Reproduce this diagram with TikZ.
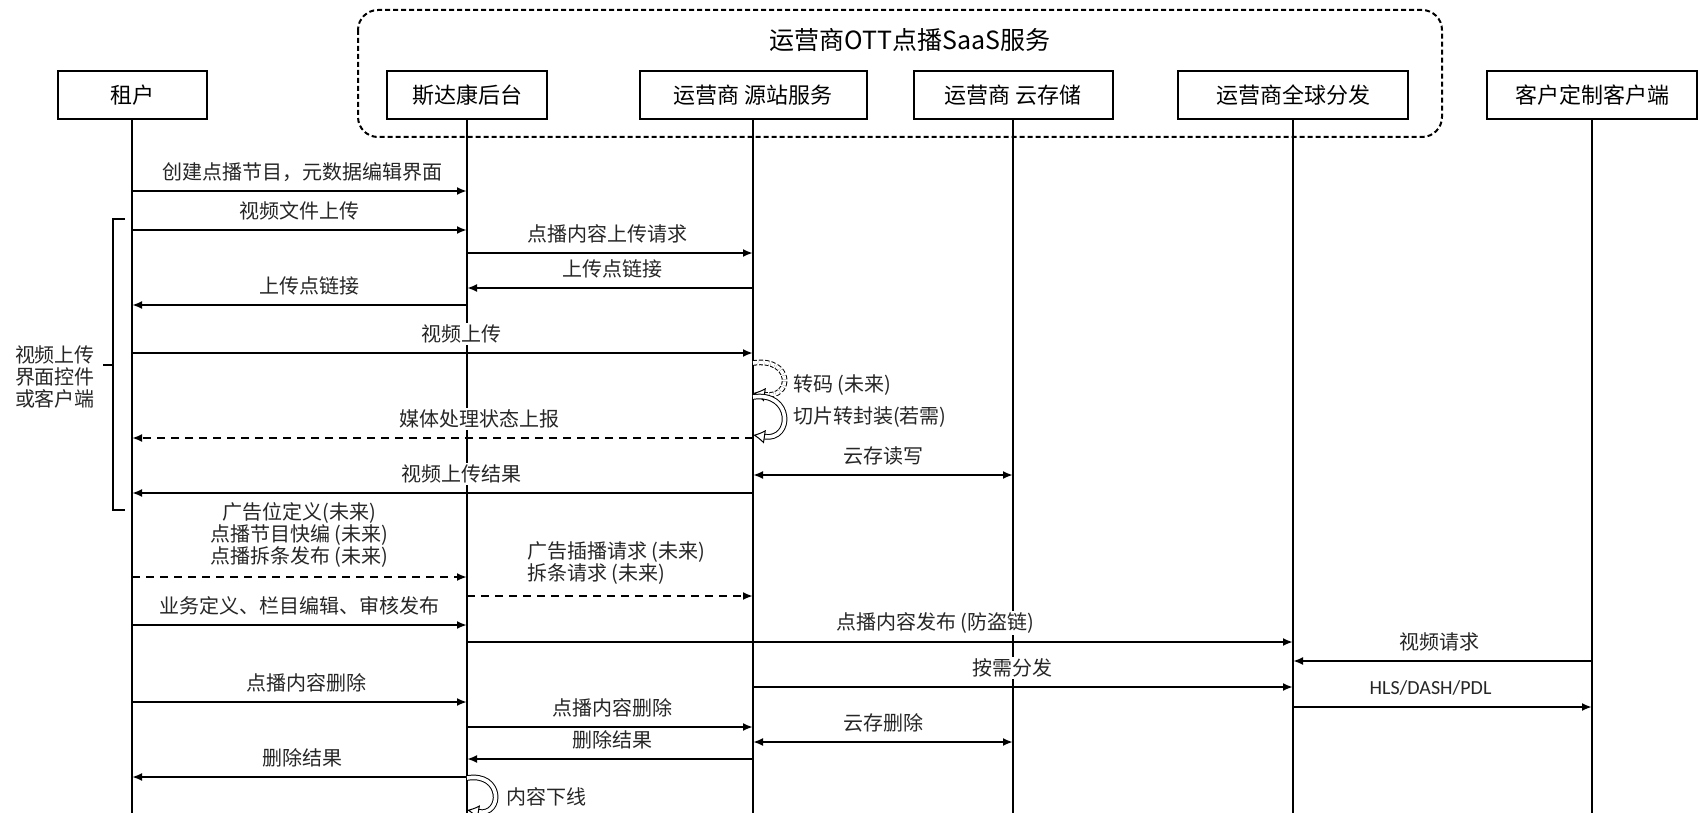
\documentclass[tikz,border=0pt]{standalone}
\usepackage{fontspec}
\setmainfont{Noto Sans CJK SC}
\newfontfamily\calibri{Carlito}
\usetikzlibrary{arrows.meta}
\newcommand\msgfont{\fontsize{10pt}{11pt}\selectfont}

\begin{document}
\begin{tikzpicture} [
                x=0.5pt, y=-0.5pt,
                actor/.style = {draw, line width=1pt, minimum height=24pt, inner sep=0pt, font=\fontsize{11pt}{13pt}\selectfont},
                lifeline/.style = {draw, line width=1pt},
                msg/.style = {draw, line width=1pt, -{Latex[length=5pt,width=4pt]}},
                future msg/.style = {msg, dash pattern=on 4pt off 3pt},
                both msg/.style = {draw, line width=1pt, {Latex[length=5pt,width=4pt]}-{Latex[length=5pt,width=4pt]}},
                msg text/.style = {font=\msgfont, text=black!85, fill=white, inner sep=1pt, yshift=9.5pt},
                self call/.style = {draw, line width=0.5pt, double, double distance=1.8pt, -{Latex[open,length=6pt,width=7pt]}},
                group/.style = {draw, line width=1pt, dash pattern=on 2.5pt off 1.5pt, rounded corners=10pt}
            ]
        \useasboundingbox (0,0) rectangle (1698,813);
        % the SaaS group round the operator services
            \draw[group] (358,10) rectangle (1442,137);
            \node[font=\fontsize{12.5pt}{14pt}\selectfont] (saas) at (910,40) {运营商OTT点播SaaS服务};
        % First we draw the participants
            \foreach \pos/\name/\boxw/\txt in {
                {(132,95)/ten/74.5pt/租户},
                {(467,95)/bak/80pt/斯达康后台},
                {(753,95)/org/113.5pt/运营商 源站服务},
                {(1013,95)/sto/99.5pt/运营商 云存储},
                {(1293,95)/cdn/115pt/运营商全球分发},
            {(1592,95)/cli/105pt/客户定制客户端}}
            \node[actor, minimum width=\boxw] (\name) at \pos {\txt};
            \coordinate (bottom) at (0,813);
        % lifelines
            \foreach \name in {ten, bak, org, sto, cdn, cli}
            \path[lifeline] (\name.south) -- (\name |- bottom);
        % Connect lifelines with messages and draw texts
            \foreach \src/\dst/\y/\p/\txt in {
                ten/bak/191/0.51/{创建点播节目，元数据编辑界面},
                ten/bak/230/0.5/视频文件上传,
                bak/org/253/0.49/点播内容上传请求,
                org/bak/288/0.49/上传点链接,
                bak/ten/305/0.47/上传点链接,
                ten/org/353/0.53/视频上传,
                org/ten/493/0.47/视频上传结果,
                ten/bak/625/0.5/{业务定义、栏目编辑、审核发布},
                bak/cdn/642/0.567/{点播内容发布 (防盗链)},
                cli/cdn/661/0.51/视频请求,
                org/cdn/687/0.48/按需分发,
                ten/bak/702/0.52/点播内容删除,
                bak/org/727/0.51/点播内容删除,
                org/bak/759/0.49/删除结果,
            bak/ten/777/0.49/删除结果}
            \path[msg] (\src |- 0,\y) -- node[msg text, pos=\p] {\txt} (\dst |- 0,\y);
            \path[msg] (cdn |- 0,707) -- node[msg text, pos=0.46, font=\calibri\fontsize{10pt}{11pt}\selectfont] {HLS/DASH/PDL} (cli |- 0,707);
        % storage read and write
            \foreach \y/\txt in {475/云存读写, 742/云存删除}
            \path[both msg] (org |- 0,\y) -- node[msg text] {\txt} (sto |- 0,\y);
        % dashed ones are for the future
            \path[future msg] (org |- 0,438) -- node[msg text, pos=0.44] {媒体处理状态上报} (ten |- 0,438);
            \path[future msg] (ten |- 0,577) -- node[msg text, pos=0.5, yshift=11.5pt, align=center] {广告位定义(未来)\\点播节目快编 (未来)\\点播拆条发布 (未来)} (bak |- 0,577);
            \path[future msg] (bak |- 0,596) -- node[msg text, pos=0.2, anchor=west, yshift=7pt, align=left] {广告插播请求 (未来)\\拆条请求 (未来)} (org |- 0,596);
        % self calls
            \path[self call, dash pattern=on 2pt off 1pt] (org |- 0,363) .. controls +(40,-6) and +(40,6) .. (org |- 0,393);
            \path[self call] (org |- 0,397) .. controls +(40,-6) and +(40,6) .. (org |- 0,435);
            \path[self call] (bak |- 0,778) .. controls +(36,-6) and +(36,6) .. (bak |- 0,810);
            \node[font=\msgfont, text=black!85, anchor=west] (transcode) at (786,385) {转码 (未来)};
            \node[font=\msgfont, text=black!85, anchor=west] (repack) at (786,417) {切片转封装(若需)};
            \node[font=\msgfont, text=black!85, anchor=west] (offline) at (499,797) {内容下线};
        % bracket for the upload client
            \node[font=\msgfont, text=black!85, align=left] (uploader) at (55,377) {视频上传\\界面控件\\或客户端};
            \draw[line width=1pt] (125,219) -- (113,219) -- (113,510) -- (125,510);
            \draw[line width=1pt] (113,365) -- (103,365);
        \end{tikzpicture}
\end{document}
